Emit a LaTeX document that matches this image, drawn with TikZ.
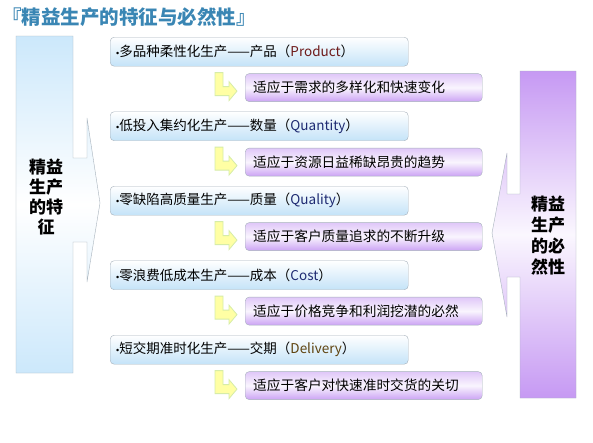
\documentclass[tikz,border=0pt]{standalone}
\usepackage{fontspec}
\setmainfont{Noto Sans CJK SC}
\newfontfamily\latinfont{Liberation Sans}
\usepackage{xcolor}
\usepackage{tikz}
\usetikzlibrary{positioning,calc}
\definecolor{titleblue}{HTML}{3A86B4}
\definecolor{featblue}{HTML}{C4E3F8}
\definecolor{sideblue}{HTML}{CCE8FB}
\definecolor{lilac}{HTML}{C699F3}
\definecolor{paleyel}{HTML}{FFFFA4}
\definecolor{yelline}{HTML}{D6ECA8}
\definecolor{edgegray}{HTML}{A7B2BC}
\definecolor{prodred}{HTML}{6E1A1A}
\definecolor{engblue}{HTML}{1E2A72}
\definecolor{engbrown}{HTML}{5E420E}
\newcommand{\dotmark}{{\latinfont\fontsize{9}{9}\selectfont•}}

\begin{document}
\begin{tikzpicture}[x=1pt,y=-1pt,
  featbox/.style={draw=edgegray,rounded corners=4pt,top color=white,bottom color=featblue,
               text width=286pt,inner xsep=6pt,inner ysep=0pt,minimum height=29pt,
               align=left,anchor=north west,font=\fontsize{13.5}{15}\selectfont},
  needbox/.style={draw=edgegray,rounded corners=4pt,top color=lilac!55,bottom color=lilac!90,
               middle color=lilac!10,text width=221pt,inner xsep=8pt,inner ysep=0pt,
               minimum height=28pt,align=left,font=\fontsize{13.7}{15}\selectfont},
  sidetext/.style={align=center,inner sep=0pt,font=\fontsize{17}{20}\selectfont\bfseries},
  bentarrow/.pic={
    \filldraw[fill=paleyel,draw=yelline,line width=0.8pt]
      (-30,-15) -- (-22,-15) -- (-22,-1) -- (-16,-1) -- (-16,-6) -- (-8,3.5)
      -- (-16,13) -- (-16,8) -- (-30,8) -- cycle;}
]
\fill[white] (0,0) rectangle (593,442);
\useasboundingbox (0,0) rectangle (593,442);

\node[anchor=west,inner sep=0pt,text=titleblue,font=\fontsize{19.5}{21}\selectfont\bfseries]
  (title) at (2,17) {『精益生产的特征与必然性』};

% side blocks
\path[draw=edgegray,top color=sideblue,bottom color=sideblue,middle color=white]
  (16,36) -- (73,36) -- (73,158) -- (87,158) -- (87,118) -- (100,203) -- (87,282)
  -- (87,242) -- (73,242) -- (73,373) -- (16,373) -- cycle;
\path[draw=edgegray,top color=lilac,bottom color=lilac,middle color=lilac!8]
  (576,71) -- (520,71) -- (520,194) -- (507,194) -- (507,153) -- (492,233) -- (507,317)
  -- (507,277) -- (520,277) -- (520,398) -- (576,398) -- cycle;
\node[sidetext] (trait) at (46,197) {精益\\生产\\的特\\征};
\node[sidetext,font=\fontsize{17}{21}\selectfont\bfseries] (need) at (548,236) {精益\\生产\\的必\\然性};

% rows
\foreach \feat/\word/\wcol/\need [count=\i from 0] in {
  多品种柔性化生产——产品/Product/prodred/适应于需求的多样化和快速变化,
  低投入集约化生产——数量/Quantity/engblue/适应于资源日益稀缺昂贵的趋势,
  零缺陷高质量生产——质量/Quality/engblue/适应于客户质量追求的不断升级,
  零浪费低成本生产——成本/Cost/engblue/适应于价格竞争和利润挖潜的必然,
  短交期准时化生产——交期/Delivery/engbrown/适应于客户对快速准时交货的关切}
{
  \node[featbox] (f\i) at (110,{37+74.5*\i}) {\dotmark\feat（\textcolor{\wcol}{\word}）};
  \node[needbox,below right=7pt and 135pt of f\i.south west] (n\i) {\need};
  \pic at (n\i.west) {bentarrow};
}
\end{tikzpicture}
\end{document}
